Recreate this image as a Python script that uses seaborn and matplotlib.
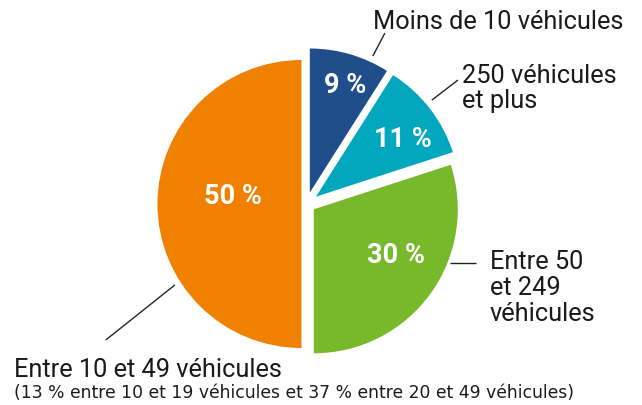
import numpy as np
import matplotlib
matplotlib.use("Agg")
import matplotlib.pyplot as plt
import seaborn as sns

# ---- data ----
categories = ["Moins de 10 véhicules", "250 véhicules\net plus",
              "Entre 50\net 249\nvéhicules", "Entre 10 et 49 véhicules"]
shares = [9, 11, 30, 50]
pct_labels = ["9 %", "11 %", "30 %", "50 %"]
sub_note = "(13 % entre 10 et 19 véhicules et 37 % entre 20 et 49 véhicules)"
colors = ["#1f4e8a", "#00a7bd", "#78b82b", "#f08000"]

sns.set_theme(style="white")
plt.rcParams["font.family"] = ["Roboto", "DejaVu Sans"]

W, H, DPI = 642, 405, 100
R_PX = 144.0
CX, CY = 306.5, 204.0

fig = plt.figure(figsize=(W / DPI, H / DPI), dpi=DPI)
ax = fig.add_axes([0, 0, 1, 1])

explode = [0.083, 0.083, 0.0625, 0.035]
wedges, _ = ax.pie(shares, colors=colors, startangle=90, counterclock=False,
                   explode=explode, radius=1.0,
                   wedgeprops=dict(linewidth=0))
ax.set_aspect("auto")
ax.set_xlim(-CX / R_PX, (W - CX) / R_PX)
ax.set_ylim(-(H - CY) / R_PX, CY / R_PX)
ax.axis("off")


def polar(w, ang, r):
    cx, cy = w.center
    a = np.deg2rad(ang)
    return cx + r * np.cos(a), cy + r * np.sin(a)


# percentage labels inside wedges
lab_pos = [(72.2, 0.80), (34.4, 0.735), (-27.5, 0.645), (170.9, 0.482)]
for w, txt, (ang, r) in zip(wedges, pct_labels, lab_pos):
    x, y = polar(w, ang, r)
    ax.text(x, y, txt, color="white", fontsize=19.5, fontweight="bold",
            ha="center", va="center_baseline")

# leader lines
lc = dict(color="#222222", lw=1.0, solid_capstyle="butt")
lines = [((65.2, 1.044), (64.8, 1.224)),
         ((39.8, 1.048), (39.4, 1.276)),
         ((-21.5, 1.017), None),
         ((212.6, 1.043), (214.8, 1.655))]
for w, (p0, p1) in zip(wedges, lines):
    x0, y0 = polar(w, *p0)
    if p1 is None:
        x1, y1 = x0 + 26 / R_PX, y0
    else:
        x1, y1 = polar(w, *p1)
    ax.plot([x0, x1], [y0, y1], **lc)

# outer labels (pixel positions -> axes fraction)
tc = "#1a1a1a"
def fx(px):
    return px / W
def fy(py):
    return 1 - py / H

fs = 18.3
ax.text(fx(373), fy(29), categories[0], transform=ax.transAxes, fontsize=fs,
        color=tc, ha="left", va="baseline")
ax.text(fx(462), fy(108), categories[1], transform=ax.transAxes, fontsize=fs,
        color=tc, ha="left", va="baseline", linespacing=1.05)
ax.text(fx(490), fy(321), categories[2], transform=ax.transAxes, fontsize=fs,
        color=tc, ha="left", va="baseline", linespacing=1.1)
ax.text(fx(14), fy(377), categories[3], transform=ax.transAxes, fontsize=fs,
        color=tc, ha="left", va="baseline")
ax.text(fx(14), fy(398), sub_note, transform=ax.transAxes, fontsize=12.3,
        family=["DejaVu Sans"], color=tc, ha="left", va="baseline")

fig.savefig("out.png", dpi=DPI)
